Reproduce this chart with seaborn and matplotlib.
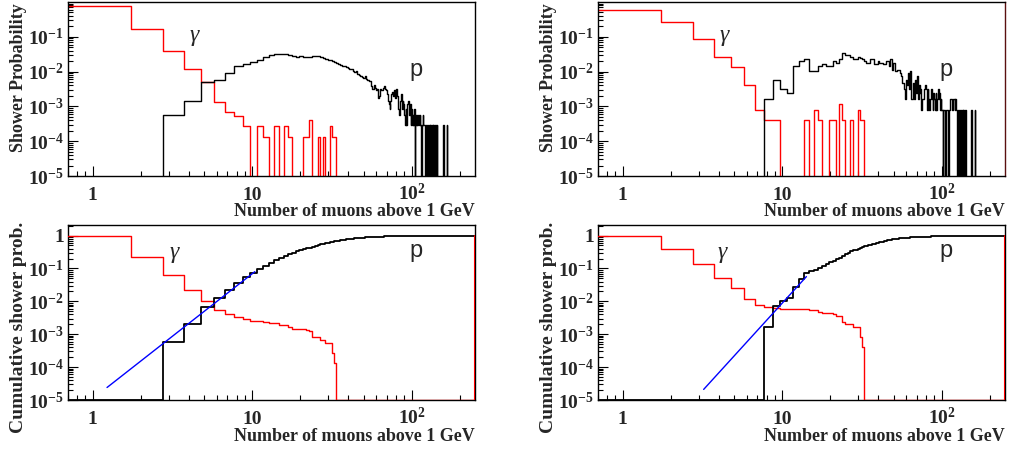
import numpy as np
import pandas as pd
import matplotlib
matplotlib.use('Agg')
import matplotlib.pyplot as plt
import seaborn as sns
from matplotlib.ticker import FixedLocator, FuncFormatter, LogLocator, NullFormatter

# histogram binning: bin n covers [n - 0.25, n + 0.75), first bin opens below the axis
n_bins = 250
hist_lo, hist_hi = 0.5, 250.0

# event counts per muon number (index 0 -> N = 1)
gamma_left = [5714, 1214, 293, 86, 37, 10, 5, 4, 2, 0,
              2, 1, 0, 2, 0, 2, 1, 0, 0, 0,
              1, 1, 3, 0, 0, 1, 0, 1, 0, 0,
              2, 1, 1]

proton_left = [0, 0, 2, 5, 17, 20, 32, 51, 58, 66,
               73, 90, 103, 108, 111, 108, 104, 95, 92, 95,
               90, 88, 88, 95, 100, 99, 88, 84, 80, 76,
               73, 70, 66, 62, 59, 55, 51, 49, 46, 43,
               40, 42, 37, 34, 36, 30, 28, 26, 24, 23,
               25, 21, 20, 19, 18, 13, 11, 14, 12, 10,
               11, 6, 7, 11, 10, 12, 13, 11, 10, 8,
               5, 4, 3, 5, 8, 9, 7, 10, 6, 11,
               7, 4, 3, 2, 5, 8, 3, 5, 4, 2,
               1, 3, 1, 4, 5, 3, 2, 4, 1, 3,
               1, 2, 1, 3, 0, 2, 1, 2, 1, 2,
               2, 1, 2, 1, 0, 1, 1, 2, 1, 1,
               1, 0, 1, 0, 0, 1, 0, 1, 1, 0,
               1, 1, 0, 1, 1, 0, 1, 0, 0, 1,
               0, 1, 0, 1, 0, 0, 0, 0, 0, 0,
               0, 0, 0, 0, 0, 0, 0, 1, 0, 0,
               0, 0, 0, 0, 0, 1]

gamma_right = [1488, 644, 217, 67, 33, 10, 2, 1, 1, 0,
               0, 0, 0, 1, 0, 2, 1, 0, 0, 1,
               1, 0, 3, 1, 0, 0, 1, 0, 0, 2,
               1, 1]

proton_right = [0, 0, 0, 0, 0, 0, 0, 2, 7, 4,
                3, 18, 25, 29, 13, 13, 18, 20, 18, 18,
                25, 22, 28, 43, 36, 36, 33, 28, 28, 33,
                30, 28, 25, 22, 22, 28, 28, 20, 20, 25,
                22, 22, 20, 20, 25, 25, 18, 28, 14, 22,
                13, 13, 14, 14, 11, 9, 6, 4, 2, 7,
                5, 11, 4, 13, 2, 6, 2, 7, 3, 9,
                2, 5, 3, 4, 1, 2, 2, 4, 5, 4,
                1, 4, 2, 1, 2, 4, 2, 1, 3, 2,
                1, 3, 1, 2, 4, 2, 3, 1, 2, 1,
                1, 0, 1, 1, 1, 0, 1, 1, 1, 0,
                1, 1, 2, 2, 2, 2, 1, 2, 2, 2,
                1, 2, 2, 1, 1, 0, 1, 1, 0, 1,
                1, 1, 0, 1, 1, 0, 1, 1, 0, 1,
                1, 0, 0, 0, 0, 0, 0, 0, 0, 0,
                0, 0, 0, 1, 0, 0, 0, 0, 0, 0,
                0, 1]

# power-law fits to the low end of the proton cumulative (end points)
fit_left_x = [1.23, 10.4]
fit_left_y = [2.4e-5, 0.080]
fit_right_x = [3.22, 14.2]
fit_right_y = [2.1e-5, 0.0566]

xlabel = 'Number of muons above 1 GeV'

sns.set_style('ticks')
plt.rcParams['font.family'] = ['Liberation Serif', 'DejaVu Serif']
plt.rcParams['font.weight'] = 'bold'
plt.rcParams['mathtext.fontset'] = 'custom'
plt.rcParams['mathtext.rm'] = 'Liberation Serif:bold'
plt.rcParams['mathtext.bf'] = 'Liberation Serif:bold'
plt.rcParams['mathtext.it'] = 'Liberation Serif:bold:italic'

edges = np.concatenate([[hist_lo], np.arange(2, n_bins + 1) - 0.25, [hist_hi]])


def probs(counts):
    c = np.zeros(n_bins)
    c[:len(counts)] = counts
    return c / c.sum()


def step_line(ax, y, color, lw=1.0, zorder=2):
    df = pd.DataFrame({'x': edges, 'y': np.append(y, y[-1])})
    sns.lineplot(data=df, x='x', y='y', drawstyle='steps-post', estimator=None,
                 sort=False, color=color, lw=lw, ax=ax, zorder=zorder)


def decade_label(v, pos):
    e = int(round(np.log10(v)))
    if e == 0:
        return '1'
    if e == 1:
        return '10'
    return r'$10^{%d}$' % e


def style_axes(ax, ymin, ymax, ydecades):
    ax.set_xscale('log')
    ax.set_yscale('log')
    ax.set_xlim(0.7, hist_hi)
    ax.set_ylim(ymin, ymax)
    ax.xaxis.set_major_locator(FixedLocator([1, 10, 100]))
    ax.xaxis.set_minor_locator(LogLocator(base=10, subs=np.arange(2, 10), numticks=20))
    ax.xaxis.set_major_formatter(FuncFormatter(decade_label))
    ax.xaxis.set_minor_formatter(NullFormatter())
    ax.yaxis.set_major_locator(FixedLocator(ydecades))
    ax.yaxis.set_minor_locator(LogLocator(base=10, subs=np.arange(2, 10), numticks=20))
    ax.yaxis.set_major_formatter(FuncFormatter(decade_label))
    ax.yaxis.set_minor_formatter(NullFormatter())
    ax.tick_params(which='both', direction='in', top=False, right=False,
                   labelsize=14, width=0.8, color='black')
    ax.tick_params(which='major', length=7)
    ax.tick_params(which='minor', length=3.5)
    ax.tick_params(axis='x', pad=17)
    ax.tick_params(axis='y', pad=3)
    for lab in ax.get_xticklabels():
        lab.set_va('baseline')
    for sp in ax.spines.values():
        sp.set_color('black')
        sp.set_linewidth(1.0)
    ax.set_xlabel(xlabel, fontsize=13, fontweight='bold', loc='right')


fig = plt.figure(figsize=(10.09, 4.5), dpi=100)
W, H = 1009, 450
ax_tl = fig.add_axes([68 / W, 1 - 176 / H, 407 / W, 174 / H])
ax_tr = fig.add_axes([598 / W, 1 - 176 / H, 407 / W, 174 / H])
ax_bl = fig.add_axes([68 / W, 1 - 400 / H, 407 / W, 175 / H])
ax_br = fig.add_axes([598 / W, 1 - 400 / H, 407 / W, 175 / H])

panels = [
    (ax_tl, ax_bl, gamma_left, proton_left, fit_left_x, fit_left_y),
    (ax_tr, ax_br, gamma_right, proton_right, fit_right_x, fit_right_y),
]

top_decades = [1e-5, 1e-4, 1e-3, 1e-2, 1e-1]
bot_decades = [1e-5, 1e-4, 1e-3, 1e-2, 1e-1, 1]
ymin = 1e-5

for ax_top, ax_bot, g_counts, p_counts, fx, fy in panels:
    pg = probs(g_counts)
    pp = probs(p_counts)

    # differential distributions
    step_line(ax_top, pg, 'red', lw=1.0)
    step_line(ax_top, pp, 'black', lw=1.0)
    style_axes(ax_top, ymin, 1.0, top_decades)
    ax_top.set_ylabel('Shower Probability', fontsize=13, fontweight='bold', loc='top')
    ax_top.yaxis.set_label_coords(-0.10, 0.995)
    ax_top.xaxis.set_label_coords(1.0, -0.155)
    ax_top.text(0.31, 0.81, '\u03b3', transform=ax_top.transAxes, fontsize=17,
                family='Liberation Serif', style='italic', fontweight='normal',
                ha='center', va='center')
    ax_top.text(0.855, 0.61, 'p', transform=ax_top.transAxes, fontsize=17,
                family='Liberation Sans', fontweight='normal', ha='center', va='center')

    # cumulative: gamma above n, proton below n (empty bins drawn on the frame)
    g_cum = np.cumsum(pg[::-1])[::-1]
    p_cum = np.cumsum(pp)
    step_line(ax_bot, np.clip(g_cum, ymin, None), 'red', lw=1.0, zorder=3)
    step_line(ax_bot, np.clip(p_cum, ymin, None), 'black', lw=1.3, zorder=3)
    # closing edge of the gamma histogram at the upper axis limit
    sns.lineplot(x=[hist_hi, hist_hi], y=[ymin, g_cum[0]], color='red', lw=1.5,
                 estimator=None, sort=False, ax=ax_bot, zorder=3)
    sns.lineplot(x=fx, y=fy, color='blue', lw=1.0, estimator=None, ax=ax_bot, zorder=4)
    style_axes(ax_bot, ymin, 2.1, bot_decades)
    ax_bot.set_ylabel('Cumulative shower prob.', fontsize=14, fontweight='bold', loc='top')
    ax_bot.yaxis.set_label_coords(-0.10, 1.017)
    ax_bot.xaxis.set_label_coords(1.0, -0.16)

ax_bl.text(0.26, 0.843, '\u03b3', transform=ax_bl.transAxes, fontsize=17,
           family='Liberation Serif', style='italic', fontweight='normal', ha='center', va='center')
ax_bl.text(0.855, 0.85, 'p', transform=ax_bl.transAxes, fontsize=17,
           family='Liberation Sans', fontweight='normal', ha='center', va='center')
ax_br.text(0.306, 0.843, '\u03b3', transform=ax_br.transAxes, fontsize=17,
           family='Liberation Serif', style='italic', fontweight='normal', ha='center', va='center')
ax_br.text(0.855, 0.85, 'p', transform=ax_br.transAxes, fontsize=17,
           family='Liberation Sans', fontweight='normal', ha='center', va='center')

ax_tr.spines['right'].set_color('#5a1010')

fig.savefig('out.png', dpi=100)
